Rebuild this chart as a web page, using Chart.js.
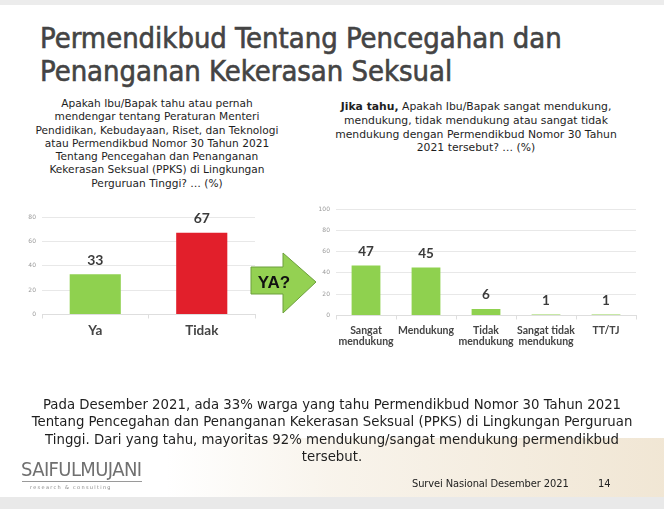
<!DOCTYPE html>
<html>
<head>
<meta charset="utf-8">
<script src="https://cdn.jsdelivr.net/npm/chart.js"></script>
<style>
  html, body { margin:0; padding:0; }
  body { width:664px; height:509px; position:relative; overflow:hidden; background:#ffffff; font-family:"DejaVu Sans", sans-serif; }
  .abs { position:absolute; }
  #topband { left:0; top:0; width:664px; height:5px; background:#ececec; }
  #botband { left:0; top:497px; width:664px; height:12px; background:#e9e9e9; }
  #beige { left:0; top:438px; width:664px; height:59px;
    background: linear-gradient(to right, rgba(255,255,255,0) 0%, rgba(255,255,255,0) 25%, rgba(240,230,212,0.45) 50%, rgba(236,222,198,0.75) 100%); }
  #title { left:40px; top:22px; font-family:"DejaVu Sans Condensed", sans-serif; font-size:28.9px; line-height:33px; color:#444; white-space:nowrap; -webkit-text-stroke:0.6px #444; }
  #q1 { left:8px; top:97px; width:298px; text-align:center; font-size:10.6px; line-height:13.3px; color:#1e1e1e; white-space:nowrap; }
  #q2 { left:326px; top:100px; width:300px; text-align:center; font-size:10.8px; line-height:13.8px; color:#1e1e1e; white-space:nowrap; }
  #para { left:0; top:396px; width:664px; text-align:center; font-size:13.3px; line-height:17.3px; color:#1e1e1e; white-space:nowrap; }
  #logo { left:21px; top:457px; font-family:"DejaVu Sans Condensed", sans-serif; font-weight:200; font-size:20px; color:#707070; letter-spacing:-0.6px; }
  #logoline { left:22px; top:481px; width:120px; height:1px; background:#9a9a9a; }
  #logosub { left:30px; top:484px; font-size:5px; letter-spacing:1.3px; color:#888; }
  #footer { left:412px; top:477px; font-family:"DejaVu Sans Condensed", sans-serif; font-size:11px; letter-spacing:-0.1px; color:#222; white-space:nowrap; }
  #pagenum { left:598px; top:477px; font-family:"DejaVu Sans Condensed", sans-serif; font-size:11px; color:#222; }
  #c1wrap { left:10px; top:195px; width:250px; height:160px; }
  #c2wrap { left:300px; top:190px; width:345px; height:175px; }
  #arrow { left:0; top:0; }
</style>
</head>
<body>
<div class="abs" id="topband"></div>
<div class="abs" id="beige"></div>
<div class="abs" id="botband"></div>

<div class="abs" id="title">Permendikbud Tentang Pencegahan dan<br>Penanganan Kekerasan Seksual</div>

<div class="abs" id="q1">Apakah Ibu/Bapak tahu atau pernah<br>mendengar tentang Peraturan Menteri<br>Pendidikan, Kebudayaan, Riset, dan Teknologi<br>atau Permendikbud Nomor 30 Tahun 2021<br>Tentang Pencegahan dan Penanganan<br>Kekerasan Seksual (PPKS) di Lingkungan<br>Perguruan Tinggi? … (%)</div>

<div class="abs" id="q2"><b>Jika tahu,</b> Apakah Ibu/Bapak sangat mendukung,<br>mendukung, tidak mendukung atau sangat tidak<br>mendukung dengan Permendikbud Nomor 30 Tahun<br>2021 tersebut? … (%)</div>

<div class="abs" id="c1wrap"><canvas id="c1"></canvas></div>
<div class="abs" id="c2wrap"><canvas id="c2"></canvas></div>

<svg class="abs" id="arrow" width="664" height="509" style="pointer-events:none">
  <polygon points="251,267 283,267 283,253 316,282 283,313 283,294 251,294" fill="#94d152" stroke="#6c9f3c" stroke-width="1"/>
  <text x="274" y="288" text-anchor="middle" font-family="Liberation Sans, Arial, sans-serif" font-weight="bold" font-size="17" fill="#111">YA?</text>
</svg>

<div class="abs" id="para">Pada Desember 2021, ada 33% warga yang tahu Permendikbud Nomor 30 Tahun 2021<br>Tentang Pencegahan dan Penanganan Kekerasan Seksual (PPKS) di Lingkungan Perguruan<br>Tinggi. Dari yang tahu, mayoritas 92% mendukung/sangat mendukung permendikbud<br>tersebut.</div>

<div class="abs" id="logo">SAIFULMUJANI</div>
<div class="abs" id="logoline"></div>
<div class="abs" id="logosub">research &amp; consulting</div>
<div class="abs" id="footer">Survei Nasional Desember 2021</div>
<div class="abs" id="pagenum">14</div>

<script>
// ---- data ----
const leftCategories = ['Ya', 'Tidak'];
const leftValues = [33, 67];
const leftColors = ['#8fd14f', '#e21f2b'];
const leftTickMax = 80;
const leftTickStep = 20;

const rightCategories = [['Sangat', 'mendukung'], 'Mendukung', ['Tidak', 'mendukung'], ['Sangat tidak', 'mendukung'], 'TT/TJ'];
const rightValues = [47, 45, 6, 1, 1];
const rightColor = '#8fd14f';
const rightTickMax = 100;
const rightTickStep = 20;

const valueLabelPlugin = {
  id: 'valueLabels',
  afterDatasetsDraw(chart, args, opts) {
    const ctx = chart.ctx;
    ctx.save();
    ctx.font = opts.font;
    ctx.fillStyle = opts.color;
    ctx.textAlign = 'center';
    ctx.textBaseline = 'middle';
    chart.data.datasets.forEach((ds, di) => {
      chart.getDatasetMeta(di).data.forEach((bar, i) => {
        ctx.fillText(String(ds.data[i]), bar.x, bar.y - opts.offset);
      });
    });
    ctx.restore();
  }
};

function makeChart(id, cats, vals, colors, max, step, opt) {
  return new Chart(document.getElementById(id), {
    type: 'bar',
    data: { labels: cats, datasets: [{ data: vals, backgroundColor: colors, borderWidth: 0, barPercentage: opt.barPct, categoryPercentage: 1 }] },
    options: {
      responsive: true, maintainAspectRatio: false, animation: false,
      layout: { padding: { top: opt.padTop, right: opt.padRight, left: 0, bottom: 0 } },
      plugins: { legend: { display: false }, tooltip: { enabled: false },
        valueLabels: { font: opt.valFont, color: '#3b3b3b', offset: 14 } },
      scales: {
        y: {
          min: 0, max: max,
          ticks: { stepSize: step, font: { size: 6, family: 'DejaVu Sans' }, color: '#9a9a9a', padding: 6 },
          grid: { color: '#e8e8e8', drawTicks: false, lineWidth: 1 },
          border: { display: false },
          afterFit(s) { s.width = opt.yWidth; }
        },
        x: {
          ticks: { font: { size: opt.catSize, weight: 'bold', family: 'Lato', lineHeight: 1.1 }, color: '#454545', padding: opt.catPad, maxRotation: 0, autoSkip: false },
          grid: { offset: true, drawOnChartArea: false, drawTicks: true, tickLength: 4, color: '#dedede' },
          border: { display: true, color: '#dedede' },
          afterFit(s) { s.height = opt.xHeight; }
        }
      }
    },
    plugins: [valueLabelPlugin]
  });
}

makeChart('c1', leftCategories, leftValues, leftColors, leftTickMax, leftTickStep,
  { barPct: 0.48, padTop: 22, padRight: 5, yWidth: 32, xHeight: 40.5, catSize: 13.5, catPad: 5, valFont: 'bold 14px Lato' });
makeChart('c2', rightCategories, rightValues, rightColor, rightTickMax, rightTickStep,
  { barPct: 0.48, padTop: 19, padRight: 9, yWidth: 36, xHeight: 49.5, catSize: 10.5, catPad: 5, valFont: 'bold 13.5px Lato' });
</script>
</body>
</html>
